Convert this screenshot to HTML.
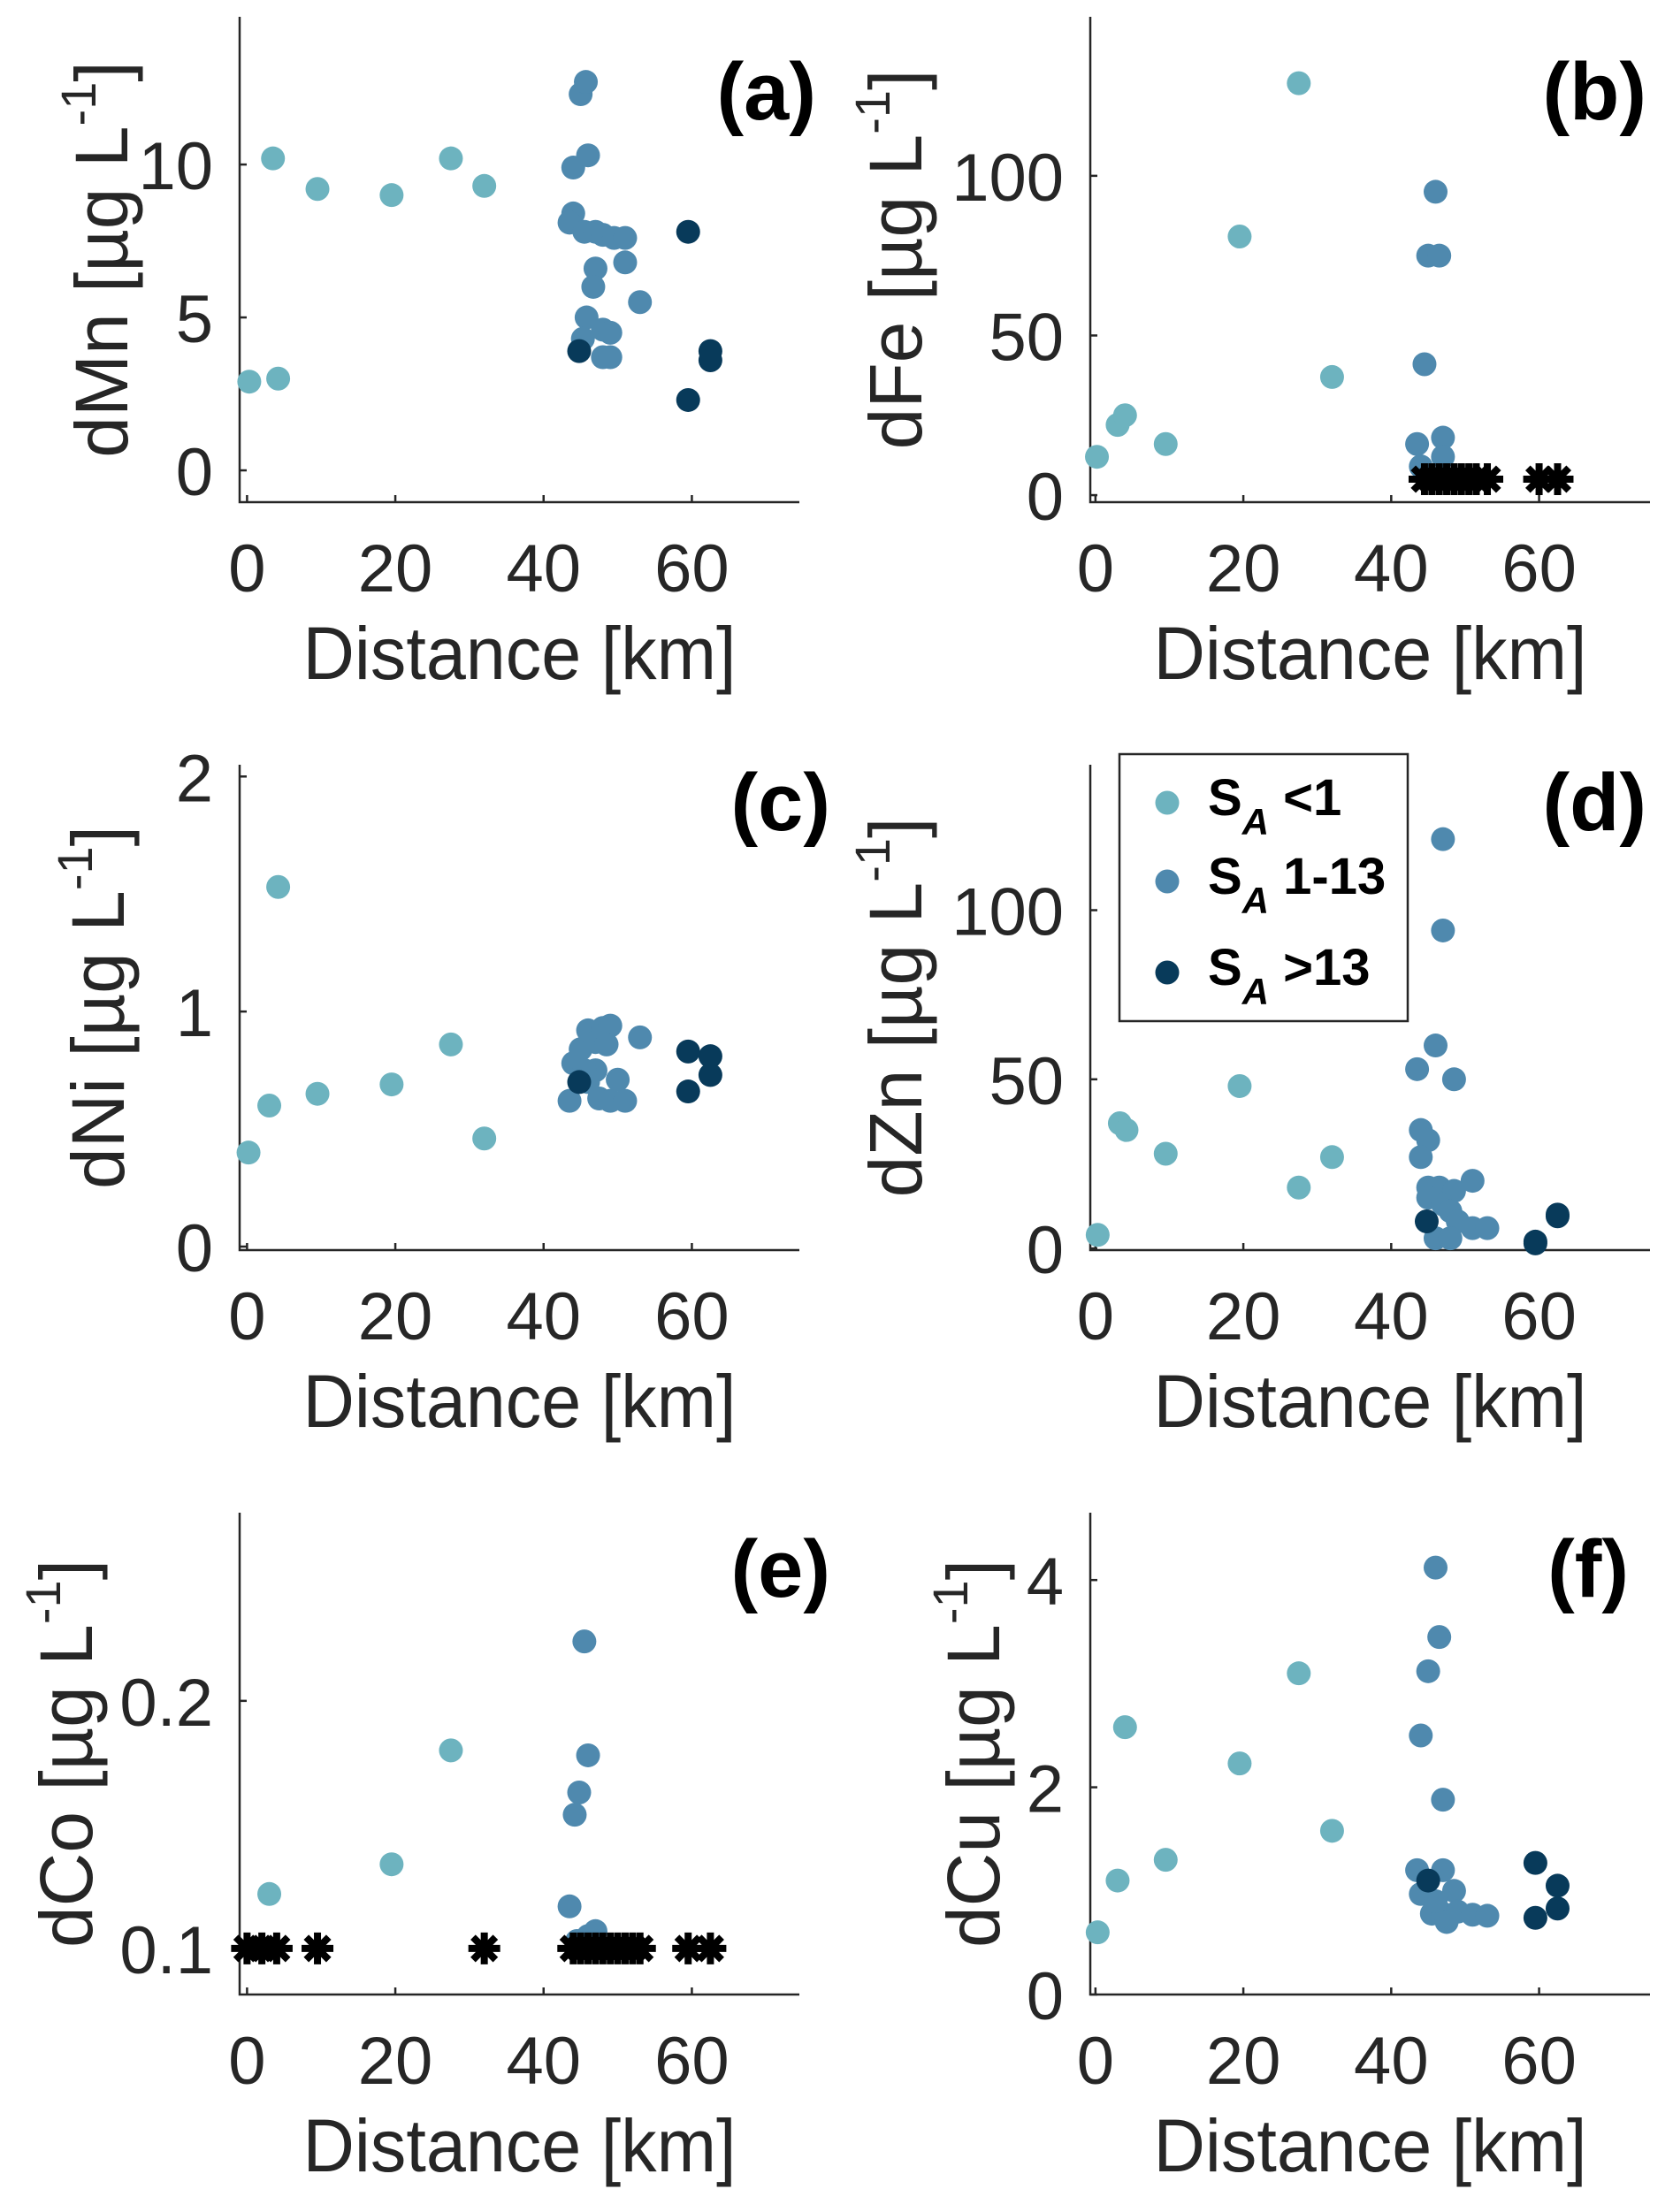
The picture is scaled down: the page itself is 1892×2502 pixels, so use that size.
<!DOCTYPE html>
<html><head><meta charset="utf-8"><style>
html,body{margin:0;padding:0;background:#fff;}
svg{display:block;font-family:"Liberation Sans",Arial,sans-serif;}
</style></head><body>
<svg id="fig" width="1892" height="2502" viewBox="0 0 1892 2502" xmlns="http://www.w3.org/2000/svg"></svg>
<script>
const xTicks=[0,20,40,60];
// (a) dMn
const aLow=[[0.3,2.9],[3.5,10.2],[4.2,3.0],[9.5,9.2],[19.5,9.0],[27.5,10.2],[32,9.3]];
const aMid=[[45,12.3],[45.7,12.7],[44,9.9],[46,10.3],[44,8.4],[43.5,8.1],[45.5,7.8],[47,7.8],[48,7.7],[49.5,7.6],[51,7.6],[51,6.8],[47,6.6],[46.7,6.0],[53,5.5],[45.8,5.0],[48,4.6],[49,4.5],[45.3,4.3],[48,3.7],[49,3.7]];
const aHigh=[[44.8,3.9],[59.5,7.8],[59.5,2.3],[62.5,3.9],[62.5,3.6]];
const aStar=[];
const aYTicks=[0,5,10];
// (b) dFe
const bLow=[[0.2,12],[3,22],[4,25],[9.5,16],[19.5,81],[27.5,129],[32,37]];
const bMid=[[46,95],[45,75],[46.5,75],[44.5,41],[43.5,16],[47,18],[47,12],[44,9],[45,6]];
const bHigh=[];
const bStar=[[44.5,5],[45.5,5],[46.5,5],[47.5,5],[48.5,5],[49.5,5],[50.5,5],[51.5,5],[53,5],[60,5],[62.5,5]];
const bYTicks=[0,50,100];
// (c) dNi
const cLow=[[0.2,0.4],[3,0.6],[4.2,1.53],[9.5,0.65],[19.5,0.69],[27.5,0.86],[32,0.46]];
const cMid=[[43.5,0.62],[44,0.78],[45,0.84],[46,0.92],[47,0.87],[48,0.93],[49,0.94],[48.5,0.86],[47,0.75],[46,0.7],[47.5,0.63],[49,0.62],[50,0.71],[51,0.62],[53,0.89],[45.5,0.75]];
const cHigh=[[44.8,0.70],[59.5,0.83],[59.5,0.66],[62.5,0.81],[62.5,0.73]];
const cStar=[];
const cYTicks=[0,1,2];
// (d) dZn
const dLow=[[0.3,4],[3.3,37],[4.2,35],[9.5,28],[19.5,48],[27.5,18],[32,27]];
const dMid=[[47,121],[47,94],[46,60],[43.5,53],[48.5,50],[44,35],[45,32],[44,27],[45,18],[46.5,18],[48.5,17],[51,20],[45,15],[47,13],[48,11],[49,8],[51,6],[53,6],[46,3],[48,3]];
const dHigh=[[44.8,8],[59.5,2],[59.5,1.5],[62.5,10],[62.5,9.5]];
const dStar=[];
const dYTicks=[0,50,100];
// (e) dCo
const eLow=[[3,0.122],[19.5,0.134],[27.5,0.180]];
const eMid=[[45.5,0.224],[46,0.178],[44.8,0.163],[44.2,0.154],[43.5,0.117],[47,0.107],[46,0.105],[44.5,0.103]];
const eHigh=[];
const eStar=[[0,0.1],[2,0.1],[4,0.1],[9.5,0.1],[32,0.1],[44,0.1],[45,0.1],[46,0.1],[47,0.1],[48,0.1],[49,0.1],[50,0.1],[51,0.1],[52,0.1],[53,0.1],[59.5,0.1],[62.5,0.1]];
const eYTicks=[0.1,0.2];
// (f) dCu
const fLow=[[0.3,0.6],[3,1.1],[4,2.58],[9.5,1.3],[19.5,2.23],[27.5,3.1],[32,1.58]];
const fMid=[[46,4.12],[46.5,3.45],[45,3.12],[44,2.5],[47,1.88],[43.5,1.2],[47,1.2],[44,0.97],[45.5,0.78],[47,0.78],[48.5,1.0],[49,0.8],[51,0.77],[53,0.76],[46,0.9],[47.5,0.7]];
const fHigh=[[45,1.1],[59.5,1.27],[59.5,0.74],[62.5,1.05],[62.5,0.83]];
const fStar=[];
const fYTicks=[0,2,4];

const NS="http://www.w3.org/2000/svg";
const svg=document.getElementById('fig');
const COL={low:"#6db3bf",mid:"#4f89ae",high:"#083a5a"};
function mk(tag,attrs,parent){const e=document.createElementNS(NS,tag);for(const k in attrs)e.setAttribute(k,attrs[k]);(parent||svg).appendChild(e);return e;}

const panels=[
 {id:"a",el:"Mn",L:271,R:904,T:19,B:568,xmin:-1,xmax:74.5,ymin:-1.04,ymax:14.83,yt:aYTicks,fmt:v=>v,lo:aLow,mi:aMid,hi:aHigh,st:aStar,ylx:144,lab:[923,135]},
 {id:"b",el:"Fe",L:1233,R:1866,T:19,B:568,xmin:-0.7,xmax:75,ymin:-2.2,ymax:149.8,yt:bYTicks,fmt:v=>v,lo:bLow,mi:bMid,hi:bHigh,st:bStar,ylx:1042,lab:[1862,135]},
 {id:"c",el:"Ni",L:271,R:904,T:865,B:1414,xmin:-1,xmax:74.5,ymin:-0.015,ymax:2.05,yt:cYTicks,fmt:v=>v,lo:cLow,mi:cMid,hi:cHigh,st:cStar,ylx:140,lab:[939,939]},
 {id:"d",el:"Zn",L:1233,R:1866,T:865,B:1414,xmin:-0.7,xmax:75,ymin:-0.5,ymax:143,yt:dYTicks,fmt:v=>v,lo:dLow,mi:dMid,hi:dHigh,st:dStar,ylx:1042,lab:[1862,939]},
 {id:"e",el:"Co",L:271,R:904,T:1711,B:2256,xmin:-1,xmax:74.5,ymin:0.0814,ymax:0.276,yt:eYTicks,fmt:v=>v.toFixed(1),lo:eLow,mi:eMid,hi:eHigh,st:eStar,ylx:104,lab:[939,1806]},
 {id:"f",el:"Cu",L:1233,R:1866,T:1711,B:2256,xmin:-0.7,xmax:75,ymin:0,ymax:4.65,yt:fYTicks,fmt:v=>v,lo:fLow,mi:fMid,hi:fHigh,st:fStar,ylx:1130,lab:[1842,1806]}
];

panels.forEach(p=>{
 const g=mk('g',{});
 
 
 const sx=v=>p.L+(v-p.xmin)/(p.xmax-p.xmin)*(p.R-p.L);
 const sy=v=>p.B-(v-p.ymin)/(p.ymax-p.ymin)*(p.B-p.T);
 const ax=mk('path',{d:`M${p.L},${p.T}V${p.B}H${p.R}`,fill:"none",stroke:"#262626","stroke-width":2.5},g);
 
 
 xTicks.forEach(t=>{
  const x=sx(t);
  mk('line',{x1:x,x2:x,y1:p.B,y2:p.B-8,stroke:"#262626","stroke-width":2.5},g);
  const tx=mk('text',{x:x,y:p.B+101,"font-size":76,fill:"#262626","text-anchor":"middle"},g);
  tx.textContent=t;
  
  
 });
 p.yt.forEach(t=>{
  const y=sy(t);
  mk('line',{x1:p.L,x2:p.L+8,y1:y,y2:y,stroke:"#262626","stroke-width":2.5},g);
  const tx=mk('text',{x:p.L-30,y:y+28,"font-size":76,fill:"#262626","text-anchor":"end"},g);
  tx.textContent=p.fmt(t);
  
  
 });
 const xl=mk('text',{x:(p.L+p.R)/2,y:p.B+200,"font-size":84,fill:"#262626","text-anchor":"middle",textLength:490,lengthAdjust:"spacingAndGlyphs"},g);
 xl.textContent="Distance [km]";
 
 
 const cy=(p.T+p.B)/2;
 const yl=mk('text',{x:p.ylx,y:cy,"font-size":84,fill:"#262626","text-anchor":"middle",transform:`rotate(-90 ${p.ylx} ${cy})`},g);
 
 
 const t1=mk('tspan',{},yl);t1.textContent="d"+p.el+" [µg L";
 const t2=mk('tspan',{"font-size":56,dy:-36},yl);t2.textContent="-1";
 const t3=mk('tspan',{dy:36},yl);t3.textContent="]";
 const pl=mk('text',{x:p.lab[0],y:p.lab[1],"font-size":92,"font-weight":"bold",fill:"#000","text-anchor":"end"},g);
 pl.textContent="("+p.id+")";
 
 
 [["low",p.lo],["mid",p.mi],["high",p.hi]].forEach(([k,arr])=>{
  arr.forEach(d=>{
   const c=mk('circle',{cx:sx(d[0]),cy:sy(d[1]),r:13.5,fill:COL[k]},g);
   
   
  });
 });
 p.st.forEach(d=>{
  const x=sx(d[0]),y=sy(d[1]);
  const s=mk('g',{stroke:"#000","stroke-width":8,"stroke-linecap":"butt"},g);
  
  
  for(let i=0;i<4;i++){const a=i*Math.PI/4,r=18;
   mk('line',{x1:x-r*Math.cos(a),y1:y-r*Math.sin(a),x2:x+r*Math.cos(a),y2:y+r*Math.sin(a)},s);}
 });
});

const lg=mk('g',{});


mk('rect',{x:1266,y:853,width:326,height:302,fill:"#fff",stroke:"#262626","stroke-width":2.5},lg);
const legItems=[["low","<1",908],["mid","1-13",997],["high",">13",1100]];
legItems.forEach(([k,lab,y])=>{
 const e=mk('g',{},lg);
 
 
 mk('circle',{cx:1320,cy:y,r:13.5,fill:COL[k]},e);
 const t=mk('text',{x:1366,y:y+14,"font-size":58,"font-weight":"bold",fill:"#000"},e);
 const a=mk('tspan',{},t);a.textContent="S";
 const b=mk('tspan',{"font-size":42,"font-style":"italic",dy:22},t);b.textContent="A";
 const c=mk('tspan',{dy:-22},t);c.textContent=" "+lab;
});
</script>
</body></html>
